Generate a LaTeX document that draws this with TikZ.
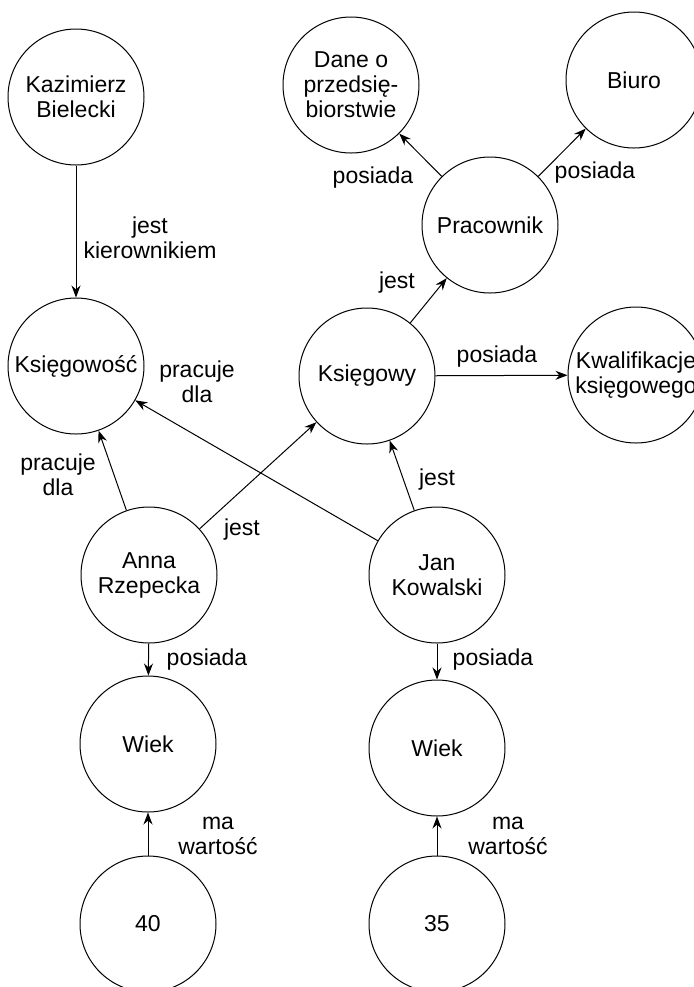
\documentclass[tikz,border=0pt]{standalone}
\usepackage{fontspec}
\setmainfont{Liberation Sans}
\usetikzlibrary{arrows.meta}

\tikzset{
  pojecie/.style={circle, draw, line width=.5pt, minimum size=68pt, inner sep=0pt,
    align=center, font=\fontsize{11.5}{12.5}\selectfont},
  rel/.style={-{Stealth[length=6pt,width=4.5pt]}, line width=.5pt},
  opis/.style={align=center, inner sep=0pt, font=\fontsize{11.5}{12.5}\selectfont},
}

\begin{document}
\begin{tikzpicture}[x=.5pt,y=-.5pt]
  \useasboundingbox (0,0) rectangle (693,987);

  % pojecia
  \node [pojecie] (kb)     at (76,97)   {Kazimierz\\Bielecki};
  \node [pojecie] (dane)   at (351,85)  {Dane o\\przedsię-\\biorstwie};
  \node [pojecie] (biuro)  at (634,80)  {Biuro};
  \node [pojecie] (prac)   at (490,225) {Pracownik};
  \node [pojecie] (ksgosc) at (76,366)  {Księgowość};
  \node [pojecie] (ksgowy) at (367,376) {Księgowy};
  \node [pojecie] (kwal)   at (636,375) {Kwalifikacje\\księgowego};
  \node [pojecie] (anna)   at (149,575) {Anna\\Rzepecka};
  \node [pojecie] (jan)    at (437,575) {Jan\\Kowalski};
  \node [pojecie] (wiekA)  at (148,744) {Wiek};
  \node [pojecie] (wiekJ)  at (437,748) {Wiek};
  \node [pojecie] (w40)    at (148,924) {40};
  \node [pojecie] (w35)    at (437,924) {35};

  % relacje
  \draw [rel] (kb) -- (ksgosc);
  \draw [rel] (prac) -- (dane);
  \draw [rel] (prac) -- (biuro);
  \draw [rel] (ksgowy) -- (prac);
  \draw [rel] (ksgowy) -- (kwal);
  \draw [rel] (anna) -- (ksgosc);
  \draw [rel] (anna) -- (ksgowy);
  \draw [rel] (jan) -- (ksgosc);
  \draw [rel] (jan) -- (ksgowy);
  \draw [rel] (anna) -- (wiekA);
  \draw [rel] (jan) -- (wiekJ);
  \draw [rel] (w40) -- (wiekA);
  \draw [rel] (w35) -- (wiekJ);

  % opisy relacji
  \node [opis] (o1)  at (150,238) {jest\\kierownikiem};
  \node [opis] (o2)  at (373,178) {posiada};
  \node [opis] (o3)  at (595,173) {posiada};
  \node [opis] (o4)  at (397,283) {jest};
  \node [opis] (o5)  at (497,357) {posiada};
  \node [opis] (o6)  at (58,475)  {pracuje\\dla};
  \node [opis] (o7)  at (197,382) {pracuje\\dla};
  \node [opis] (o8)  at (242,530) {jest};
  \node [opis] (o9)  at (437,480) {jest};
  \node [opis] (o10) at (207,660) {posiada};
  \node [opis] (o11) at (493,660) {posiada};
  \node [opis] (o12) at (218,836) {ma\\wartość};
  \node [opis] (o13) at (508,836) {ma\\wartość};
\end{tikzpicture}
\end{document}
